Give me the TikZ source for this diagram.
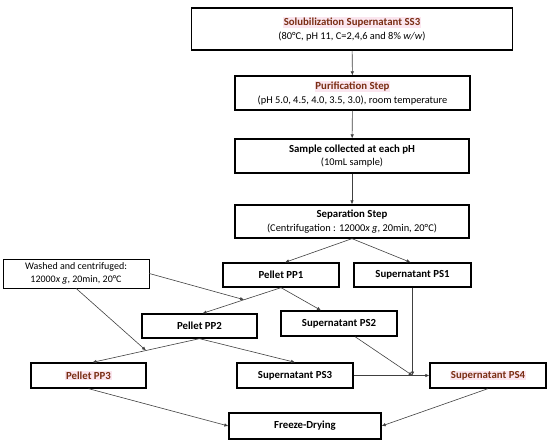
\documentclass[tikz,border=0pt]{standalone}
\usepackage{fontspec}
\setmainfont{Carlito}
\usetikzlibrary{arrows.meta}
\definecolor{titlered}{HTML}{7A2E14}
\definecolor{hlpink}{HTML}{FBE6EF}
\definecolor{linegray}{HTML}{404040}
\newcommand{\hl}[1]{{\setlength{\fboxsep}{0.6pt}\colorbox{hlpink}{\color{titlered}#1}}}
\newcommand{\sub}[1]{{\fontsize{10.4}{13}\selectfont #1}}
\tikzset{
  stepbox/.style={draw, line width=1.3pt, rectangle, align=center, inner sep=1pt, font=\fontsize{10.8}{13.5}\selectfont},
  notebox/.style={draw, line width=0.6pt, rectangle, align=center, inner sep=1pt, font=\fontsize{10}{12.5}\selectfont},
  link/.style={->, linegray, line width=0.6pt}
}
\begin{document}
\begin{tikzpicture}[x=1pt, y=-1pt, >={Latex[length=4pt,width=3.5pt]}]
    \useasboundingbox (0,0) rectangle (550,442);

    % main column
    \node[stepbox, minimum width=321pt, minimum height=42pt] (ss3) at (352, 29) {\textbf{\hl{Solubilization Supernatant SS3}}\\\sub{(80°C, pH 11, C=2,4,6 and 8\% \textit{w/w})}};
    \node[stepbox, minimum width=235pt, minimum height=34pt] (purif) at (352.5, 93) {\textbf{\hl{Purification Step}}\\\sub{(pH 5.0, 4.5, 4.0, 3.5, 3.0), room temperature}};
    \node[stepbox, minimum width=234pt, minimum height=34pt] (sample) at (352, 156) {\textbf{Sample collected at each pH}\\\sub{(10mL sample)}};
    \node[stepbox, minimum width=234pt, minimum height=33pt] (sep) at (352, 221.5) {\textbf{Separation Step}\\\sub{(Centrifugation : 12000\textit{x g}, 20min, 20°C)}};

    % pellets and supernatants
    \node[stepbox, minimum width=116pt, minimum height=24pt] (pp1) at (281, 275) {\textbf{Pellet PP1}};
    \node[stepbox, minimum width=117pt, minimum height=24pt] (ps1) at (412.5, 275) {\textbf{Supernatant PS1}};
    \node[notebox, minimum width=146pt, minimum height=29pt] (wash) at (76, 273.5) {Washed and centrifuged:\\12000\textit{x g}, 20min, 20°C};
    \node[stepbox, minimum width=115pt, minimum height=24pt] (pp2) at (199.5, 326) {\textbf{Pellet PP2}};
    \node[stepbox, minimum width=116pt, minimum height=25pt] (ps2) at (339, 323.5) {\textbf{Supernatant PS2}};
    \node[stepbox, minimum width=115pt, minimum height=25pt] (pp3) at (88.5, 375.5) {\textbf{\hl{Pellet PP3}}};
    \node[stepbox, minimum width=116pt, minimum height=25pt] (ps3) at (295, 375.5) {\textbf{Supernatant PS3}};
    \node[stepbox, minimum width=116pt, minimum height=25pt] (ps4) at (488, 375.5) {\textbf{\hl{Supernatant PS4}}};
    \node[stepbox, minimum width=152pt, minimum height=26pt] (fd) at (305, 426) {\textbf{Freeze-Drying}};

    % connectors
    \draw[link] (ss3) -- (purif);
    \draw[link] (purif) -- (sample);
    \draw[link] (sample) -- (sep);
    \draw[link] (sep.south) -- ([xshift=4pt]pp1.north);
    \draw[link] (sep.south) -- ([xshift=-2pt]ps1.north);
    \draw[link] (pp1.south) -- coordinate[pos=0.47] (m1) ([xshift=3pt]pp2.north);
    \draw[link] (pp1.south) -- ([xshift=-18pt]ps2.north);
    \draw[link] (pp2.south) -- coordinate[pos=0.5] (m2) ([xshift=4pt]pp3.north);
    \draw[link] (pp2.south) -- (ps3.north);
    \draw[link] (wash.east) -- (m1);
    \draw[link] (wash.south) -- (m2);

    \coordinate (join) at (ps1.south |- ps3.east);
    \draw[link] (ps1.south) -- (join);
    \draw[link] ([xshift=16pt]ps2.south) -- (join);
    \draw[link] (ps3.east) -- (ps4.west);
    \draw[link] (pp3.south) -- (fd.west);
    \draw[link] (ps4.south) -- (fd.east);
\end{tikzpicture}
\end{document}
